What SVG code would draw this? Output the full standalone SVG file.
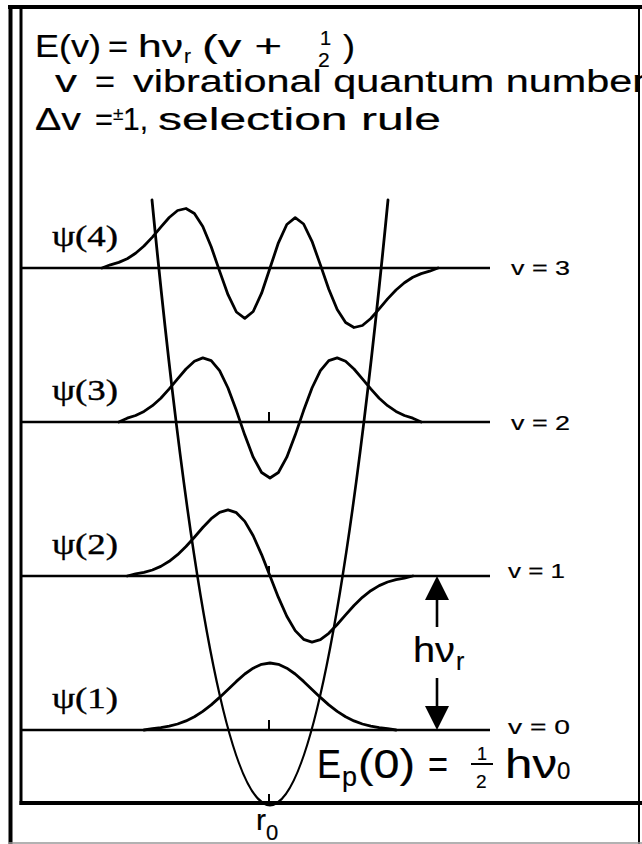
<svg xmlns="http://www.w3.org/2000/svg" width="642" height="844" viewBox="0 0 642 844">
<style>
.ln{stroke:#000;fill:none}
.lvl{stroke:#000;stroke-width:2.4}
.wf{fill:none;stroke:#000;stroke-width:2.8;stroke-linejoin:round;stroke-linecap:round}
.tick{stroke:#000;stroke-width:2}
.s{font-family:"Liberation Sans",Arial,Helvetica,sans-serif;fill:#000;stroke:#000;stroke-width:0.2}
.t{font-family:"Liberation Serif","Times New Roman",serif;fill:#000;stroke:#000;stroke-width:0.4;font-size:30px}
.big{font-size:31px}
.lab{font-size:20px}
</style>
<rect width="642" height="844" fill="#fff"/>
<g id="frame">
<line class="ln" x1="10.5" y1="5" x2="10.5" y2="844" stroke-width="4"/>
<line class="ln" x1="8" y1="7" x2="642" y2="7" stroke-width="4"/>
<line class="ln" x1="639" y1="5" x2="639" y2="844" stroke-width="2"/>
<line x1="8" y1="843" x2="642" y2="843" stroke="#999" stroke-width="1.5"/>
<line class="ln" x1="21" y1="7" x2="21" y2="805" stroke-width="3"/>
<line class="ln" x1="19.5" y1="803" x2="642" y2="803" stroke-width="4"/>
</g>
<g id="header">
<text class="s big" x="35" y="57" textLength="66" lengthAdjust="spacingAndGlyphs">E(v)</text>
<text class="s big" x="108" y="57" textLength="20" lengthAdjust="spacingAndGlyphs">=</text>
<text class="s big" x="138" y="57" textLength="45" lengthAdjust="spacingAndGlyphs">hν</text>
<text class="s" x="184" y="63" font-size="21">r</text>
<text class="s big" x="202" y="57" textLength="80" lengthAdjust="spacingAndGlyphs">(v +</text>
<text class="s" x="320" y="45" font-size="20">1</text>
<text class="s" x="318" y="67" font-size="21">2</text>
<text class="s big" x="343" y="57" textLength="12" lengthAdjust="spacingAndGlyphs">)</text>
<text class="s big" x="55" y="92" textLength="22" lengthAdjust="spacingAndGlyphs">v</text>
<text class="s big" x="95" y="92" textLength="20" lengthAdjust="spacingAndGlyphs">=</text>
<text class="s big" x="133" y="92" textLength="513" lengthAdjust="spacingAndGlyphs">vibrational quantum number</text>
<text class="s big" x="35" y="130" textLength="46" lengthAdjust="spacingAndGlyphs">Δv</text>
<text class="s big" x="95" y="130" textLength="18" lengthAdjust="spacingAndGlyphs">=</text>
<text class="s" x="113" y="120" font-size="19">±</text>
<text class="s big" x="123" y="130" textLength="25" lengthAdjust="spacingAndGlyphs">1,</text>
<text class="s big" x="158" y="130" textLength="283" lengthAdjust="spacingAndGlyphs">selection rule</text>
</g>
<g id="levels">
<line class="lvl" x1="21" y1="268" x2="490" y2="268"/>
<line class="lvl" x1="21" y1="422" x2="490" y2="422"/>
<line class="lvl" x1="21" y1="576" x2="490" y2="576"/>
<line class="lvl" x1="21" y1="730" x2="490" y2="730"/>
<text class="s lab" x="511" y="275" textLength="59" lengthAdjust="spacingAndGlyphs">v = 3</text>
<text class="s lab" x="511" y="430" textLength="59" lengthAdjust="spacingAndGlyphs">v = 2</text>
<text class="s lab" x="508" y="578" textLength="57" lengthAdjust="spacingAndGlyphs">v = 1</text>
<text class="s lab" x="508" y="734" textLength="62" lengthAdjust="spacingAndGlyphs">v = 0</text>
</g>
<g id="potential">
<path class="wf" d="M152,200 Q270,1410 388,200"/>
<line class="tick" x1="269" y1="412" x2="269" y2="422"/>
<line class="tick" x1="269" y1="566" x2="269" y2="576"/>
<line class="tick" x1="269" y1="720" x2="269" y2="730"/>
<line class="tick" x1="269" y1="794" x2="269" y2="803"/>
</g>
<g id="psi4">
<polyline class="wf" points="102,268 110.4,264.8 118.8,262.4 127.2,258.7 135.6,253.3 144,246.0 152.4,237.1 160.8,227.1 169.2,217.5 177.6,210.5 186,208.5 194.4,213.5 202.8,226.5 211.2,246.7 219.6,271.1 228,294.7 236.4,312.0 244.8,318.3 253.2,311.5 261.6,293.2 270,268 278.4,242.8 286.8,224.5 295.2,217.7 303.6,224.0 312,241.3 320.4,264.9 328.8,289.3 337.2,309.5 345.6,322.5 354,327.5 362.4,325.5 370.8,318.5 379.2,308.9 387.6,298.9 396,290.0 404.4,282.7 412.8,277.3 421.2,273.6 429.6,271.2 438,268"/>
<text class="t" x="52" y="246" textLength="66" lengthAdjust="spacingAndGlyphs">ψ(4)</text>
</g>
<g id="psi3">
<polyline class="wf" points="118.8,422 127.2,418.2 135.6,415.5 144,411.4 152.4,405.7 160.8,398.2 169.2,388.9 177.6,378.8 186,369.0 194.4,361.3 202.8,357.9 211.2,360.6 219.6,370.7 228,388.0 236.4,410.6 244.8,435.1 253.2,457.2 261.6,472.5 270,478 278.4,472.5 286.8,457.2 295.2,435.1 303.6,410.6 312,388.0 320.4,370.7 328.8,360.6 337.2,357.9 345.6,361.3 354,369.0 362.4,378.8 370.8,388.9 379.2,398.2 387.6,405.7 396,411.4 404.4,415.5 412.8,418.2 421.2,422"/>
<text class="t" x="52" y="400" textLength="66" lengthAdjust="spacingAndGlyphs">ψ(3)</text>
</g>
<g id="psi2">
<polyline class="wf" points="127.2,576 135.6,573.9 144,572.4 152.4,570.0 160.8,566.4 169.2,561.3 177.6,554.7 186,546.5 194.4,537.2 202.8,527.5 211.2,518.7 219.6,512.3 228,509.9 236.4,512.7 244.8,521.4 253.2,535.8 261.6,554.6 270,576 278.4,597.4 286.8,616.2 295.2,630.6 303.6,639.3 312,642.1 320.4,639.7 328.8,633.3 337.2,624.5 345.6,614.8 354,605.5 362.4,597.3 370.8,590.7 379.2,585.6 387.6,582.0 396,579.6 404.4,578.1 412.8,576"/>
<text class="t" x="52" y="554" textLength="66" lengthAdjust="spacingAndGlyphs">ψ(2)</text>
</g>
<g id="psi1">
<polyline class="wf" points="144,730 152.4,728.7 160.8,727.7 169.2,726.2 177.6,724.0 186,720.9 194.4,716.7 202.8,711.4 211.2,704.9 219.6,697.4 228,689.4 236.4,681.4 244.8,674.0 253.2,668.2 261.6,664.3 270,663 278.4,664.3 286.8,668.2 295.2,674.0 303.6,681.4 312,689.4 320.4,697.4 328.8,704.9 337.2,711.4 345.6,716.7 354,720.9 362.4,724.0 370.8,726.2 379.2,727.7 387.6,728.7 396,730"/>
<text class="t" x="52" y="708" textLength="66" lengthAdjust="spacingAndGlyphs">ψ(1)</text>
</g>
<g id="connectors">
<polygon points="437,576 425,600 449,600" fill="#000"/>
<line class="ln" x1="437" y1="599" x2="437" y2="627" stroke-width="2.6"/>
<line class="ln" x1="437" y1="678" x2="437" y2="707" stroke-width="2.6"/>
<polygon points="425,706 449,706 437,730" fill="#000"/>
</g>
<g id="gap-label">
<text class="s" x="413" y="662" font-size="35" textLength="42" lengthAdjust="spacingAndGlyphs">hν</text>
<text class="s" x="456" y="670" font-size="25">r</text>
</g>
<g id="zero-point">
<text class="s" x="317" y="778" font-size="40" textLength="24" lengthAdjust="spacingAndGlyphs">E</text>
<text class="s" x="342" y="786" font-size="28" textLength="15" lengthAdjust="spacingAndGlyphs">p</text>
<text class="s" x="358" y="778" font-size="40" textLength="57" lengthAdjust="spacingAndGlyphs">(0)</text>
<text class="s" x="428" y="778" font-size="40" textLength="20" lengthAdjust="spacingAndGlyphs">=</text>
<text class="s" x="477" y="760" font-size="18">1</text>
<line class="ln" x1="471" y1="764" x2="493" y2="764" stroke-width="2"/>
<text class="s" x="476" y="788" font-size="19">2</text>
<text class="s" x="505" y="778" font-size="40" textLength="52" lengthAdjust="spacingAndGlyphs">hν</text>
<text class="s" x="557" y="779" font-size="24">0</text>
</g>
<g id="r0">
<text class="s" x="256" y="830" font-size="30">r</text>
<text class="s" x="266" y="840" font-size="22">0</text>
</g>
</svg>
